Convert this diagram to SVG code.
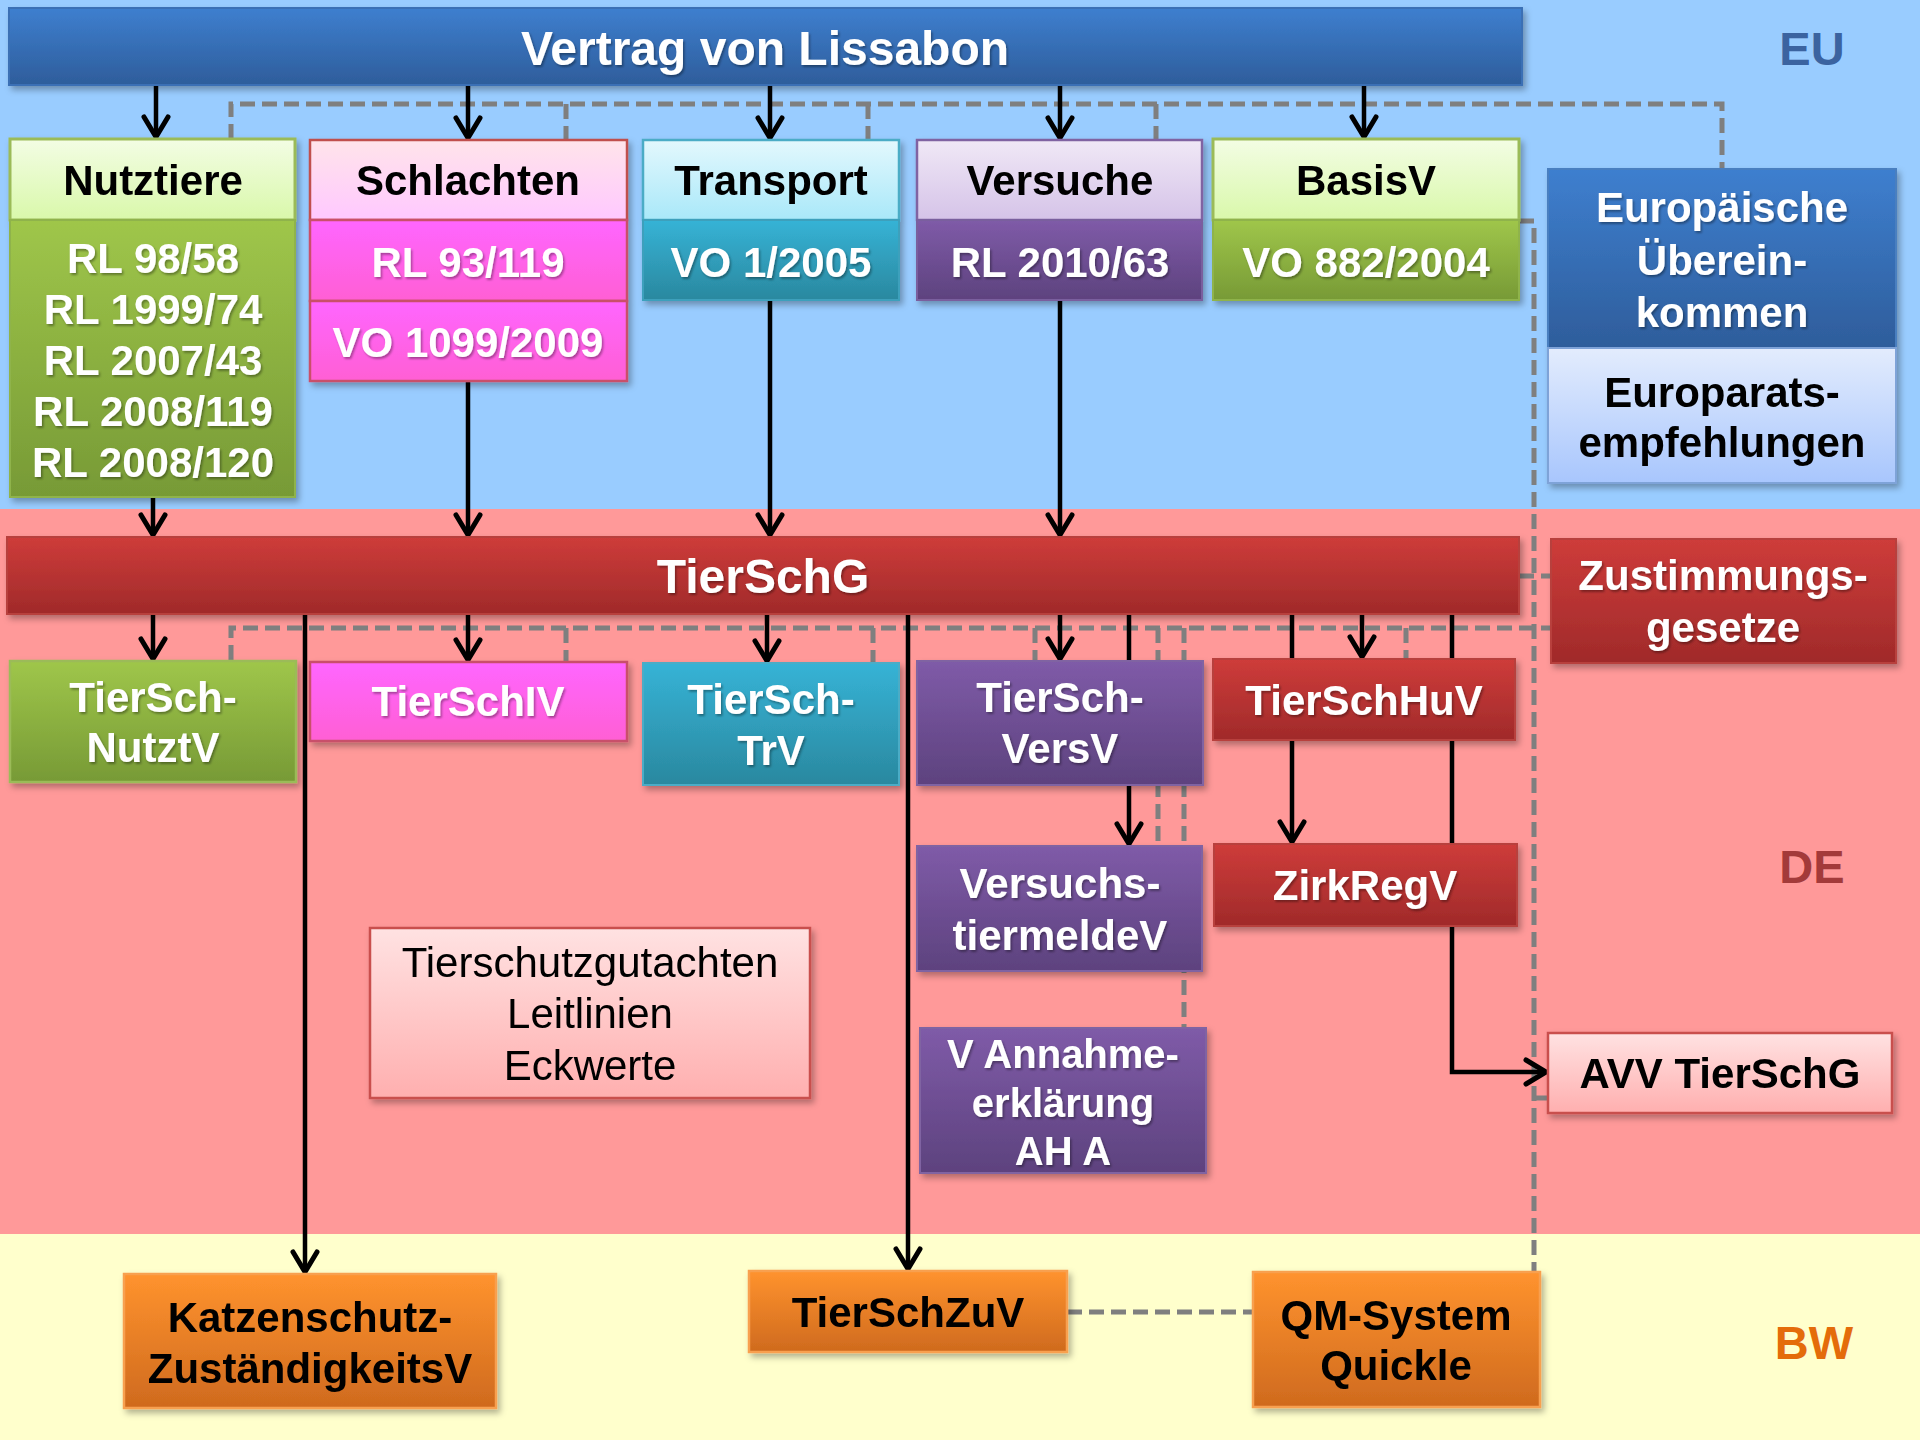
<svg xmlns="http://www.w3.org/2000/svg" width="1920" height="1440" viewBox="0 0 1920 1440">
<defs>
<linearGradient id="gBlue" x1="0" y1="0" x2="0" y2="1"><stop offset="0" stop-color="#3e7fcf"/><stop offset="1" stop-color="#2e5d9b"/></linearGradient>
<linearGradient id="gRed" x1="0" y1="0" x2="0" y2="1"><stop offset="0" stop-color="#ce3c3a"/><stop offset="1" stop-color="#a02a2a"/></linearGradient>
<linearGradient id="gGreenH" x1="0" y1="0" x2="0" y2="1"><stop offset="0" stop-color="#f3fde4"/><stop offset="1" stop-color="#d9f8aa"/></linearGradient>
<linearGradient id="gGreen" x1="0" y1="0" x2="0" y2="1"><stop offset="0" stop-color="#9fc64a"/><stop offset="1" stop-color="#779a36"/></linearGradient>
<linearGradient id="gPinkH" x1="0" y1="0" x2="0" y2="1"><stop offset="0" stop-color="#ffe4ea"/><stop offset="1" stop-color="#ffc8ff"/></linearGradient>
<linearGradient id="gMag" x1="0" y1="0" x2="0" y2="1"><stop offset="0" stop-color="#ff66ff"/><stop offset="1" stop-color="#ff5fd4"/></linearGradient>
<linearGradient id="gCyanH" x1="0" y1="0" x2="0" y2="1"><stop offset="0" stop-color="#e3f8fd"/><stop offset="1" stop-color="#a9e8f9"/></linearGradient>
<linearGradient id="gTeal" x1="0" y1="0" x2="0" y2="1"><stop offset="0" stop-color="#36b3d6"/><stop offset="1" stop-color="#2a889f"/></linearGradient>
<linearGradient id="gLavH" x1="0" y1="0" x2="0" y2="1"><stop offset="0" stop-color="#f0e8f6"/><stop offset="1" stop-color="#d5c3e8"/></linearGradient>
<linearGradient id="gPurple" x1="0" y1="0" x2="0" y2="1"><stop offset="0" stop-color="#7f5ba8"/><stop offset="1" stop-color="#5d427e"/></linearGradient>
<linearGradient id="gLightBlue" x1="0" y1="0" x2="0" y2="1"><stop offset="0" stop-color="#e3ecfd"/><stop offset="1" stop-color="#a8c6fd"/></linearGradient>
<linearGradient id="gRose" x1="0" y1="0" x2="0" y2="1"><stop offset="0" stop-color="#ffe2e2"/><stop offset="1" stop-color="#ffafaf"/></linearGradient>
<linearGradient id="gOrange" x1="0" y1="0" x2="0" y2="1"><stop offset="0" stop-color="#ff932e"/><stop offset="1" stop-color="#cf6a1e"/></linearGradient>
<filter id="shadow" x="-10%" y="-10%" width="130%" height="140%">
<feDropShadow dx="3" dy="4" stdDeviation="3" flood-color="#000" flood-opacity="0.3"/>
</filter>
<filter id="tshadow" x="-5%" y="-20%" width="110%" height="150%">
<feDropShadow dx="1.5" dy="2" stdDeviation="1" flood-color="#000" flood-opacity="0.35"/>
</filter>
<marker id="arrow" markerUnits="userSpaceOnUse" viewBox="-24 -14 28 28" refX="0" refY="0" markerWidth="28" markerHeight="28" orient="auto" overflow="visible">
<path d="M-20,-12 L0,0 L-20,12" fill="none" stroke="#000" stroke-width="5" stroke-linecap="round" stroke-linejoin="miter"/>
</marker>
</defs>
<style>
text{font-family:"Liberation Sans",Arial,Helvetica,sans-serif;font-weight:bold;text-anchor:middle;}
.w{fill:#fff;font-size:42px;}
.k{fill:#000;font-size:42px;}
.big{fill:#fff;font-size:48px;}
.reg{font-weight:normal;fill:#000;font-size:42px;}
.lbl{font-size:47px;}
.line{fill:none;stroke:#000;stroke-width:4.5;}
.arr{marker-end:url(#arrow);}
.dash{fill:none;stroke:#7f7f7f;stroke-width:5;stroke-dasharray:15 7;}
.box{filter:url(#shadow);}
.wt{filter:url(#tshadow);}
</style>

<!-- backgrounds -->
<rect x="0" y="0" width="1920" height="509" fill="#99ccff"/>
<rect x="0" y="509" width="1920" height="725" fill="#ff9999"/>
<rect x="0" y="1234" width="1920" height="206" fill="#ffffcc"/>

<g id="connectors">
<!-- dashed EU -->
<path class="dash" d="M231,139 V104 H1722 V169"/>
<path class="dash" d="M566,104 V141"/>
<path class="dash" d="M868,104 V139"/>
<path class="dash" d="M1156,104 V139"/>
<path class="dash" d="M1519,221 H1534 V1272"/>
<path class="dash" d="M1519,576 H1551"/>
<path class="dash" d="M1534,1098 H1548"/>
<!-- dashed DE -->
<path class="dash" d="M231,660 V628 H1551"/>
<path class="dash" d="M566,628 V662"/>
<path class="dash" d="M873,628 V663"/>
<path class="dash" d="M1035,628 V661"/>
<path class="dash" d="M1158,628 V846"/>
<path class="dash" d="M1184,628 V1028"/>
<path class="dash" d="M1406,628 V659"/>
<!-- dashed BW -->
<path class="dash" d="M1067,1312 H1253"/>
<!-- black arrows -->
<path class="line arr" d="M156,85 V137"/>
<path class="line arr" d="M468,85 V138"/>
<path class="line arr" d="M770,85 V138"/>
<path class="line arr" d="M1060,85 V138"/>
<path class="line arr" d="M1364,85 V137"/>
<path class="line arr" d="M153,497 V535"/>
<path class="line arr" d="M468,381 V535"/>
<path class="line arr" d="M770,300 V535"/>
<path class="line arr" d="M1060,300 V535"/>
<path class="line arr" d="M153,614 V659"/>
<path class="line arr" d="M468,614 V660"/>
<path class="line arr" d="M767,614 V661"/>
<path class="line arr" d="M305,614 V1272"/>
<path class="line arr" d="M908,614 V1269"/>
<path class="line arr" d="M1060,614 V659"/>
<path class="line arr" d="M1129,614 V844"/>
<path class="line arr" d="M1292,614 V842"/>
<path class="line arr" d="M1362,614 V657"/>
<path class="line arr" d="M1452,614 V1072 H1546"/>
</g>

<!-- EU level -->
<g id="vertrag" class="box">
<rect x="9" y="8" width="1513" height="77" fill="url(#gBlue)" stroke="#3a6fb5" stroke-width="2"/>
<text class="big wt" x="765" y="65">Vertrag von Lissabon</text>
</g>
<g id="nutztiere" class="box">
<rect x="10" y="139" width="285" height="81" fill="url(#gGreenH)" stroke="#9bbb59" stroke-width="3"/>
<rect x="10" y="220" width="285" height="277" fill="url(#gGreen)" stroke="#8fb34c" stroke-width="2"/>
<text class="k" x="153" y="195">Nutztiere</text>
<g class="wt">
<text class="w" x="153" y="273">RL 98/58</text>
<text class="w" x="153" y="324">RL 1999/74</text>
<text class="w" x="153" y="375">RL 2007/43</text>
<text class="w" x="153" y="426">RL 2008/119</text>
<text class="w" x="153" y="477">RL 2008/120</text>
</g>
</g>
<g id="schlachten" class="box">
<rect x="310" y="140" width="317" height="80" fill="url(#gPinkH)" stroke="#c0504d" stroke-width="2.5"/>
<rect x="310" y="220" width="317" height="81" fill="url(#gMag)" stroke="#c9506a" stroke-width="2.5"/>
<rect x="310" y="301" width="317" height="80" fill="url(#gMag)" stroke="#c9506a" stroke-width="2.5"/>
<text class="k" x="468" y="195">Schlachten</text>
<g class="wt">
<text class="w" x="468" y="277">RL 93/119</text>
<text class="w" x="468" y="357">VO 1099/2009</text>
</g>
</g>
<g id="transport" class="box">
<rect x="643" y="140" width="256" height="80" fill="url(#gCyanH)" stroke="#4bacc6" stroke-width="2.5"/>
<rect x="643" y="220" width="256" height="80" fill="url(#gTeal)" stroke="#3ea0bc" stroke-width="2"/>
<text class="k" x="771" y="195">Transport</text>
<text class="w wt" x="771" y="277">VO 1/2005</text>
</g>
<g id="versuche" class="box">
<rect x="917" y="140" width="285" height="80" fill="url(#gLavH)" stroke="#8064a2" stroke-width="2.5"/>
<rect x="917" y="220" width="285" height="80" fill="url(#gPurple)" stroke="#7a5e9e" stroke-width="2"/>
<text class="k" x="1060" y="195">Versuche</text>
<text class="w wt" x="1060" y="277">RL 2010/63</text>
</g>
<g id="basisv" class="box">
<rect x="1213" y="139" width="306" height="81" fill="url(#gGreenH)" stroke="#9bbb59" stroke-width="3"/>
<rect x="1213" y="220" width="306" height="80" fill="url(#gGreen)" stroke="#8fb34c" stroke-width="2"/>
<text class="k" x="1366" y="195">BasisV</text>
<text class="w wt" x="1366" y="277">VO 882/2004</text>
</g>
<g id="europ" class="box">
<rect x="1548" y="169" width="348" height="179" fill="url(#gBlue)" stroke="#4a7fc0" stroke-width="2"/>
<rect x="1548" y="348" width="348" height="135" fill="url(#gLightBlue)" stroke="#7ea3d8" stroke-width="2"/>
<g class="wt">
<text class="w" x="1722" y="222">Europäische</text>
<text class="w" x="1722" y="275">Überein-</text>
<text class="w" x="1722" y="327">kommen</text>
</g>
<text class="k" x="1722" y="407">Europarats-</text>
<text class="k" x="1722" y="457">empfehlungen</text>
</g>

<!-- DE level -->
<g id="tierschg" class="box">
<rect x="7" y="537" width="1512" height="77" fill="url(#gRed)" stroke="#b8403d" stroke-width="2"/>
<text class="big wt" x="763" y="593">TierSchG</text>
</g>
<g id="zustimmung" class="box">
<rect x="1551" y="539" width="345" height="124" fill="url(#gRed)" stroke="#b8403d" stroke-width="2"/>
<g class="wt">
<text class="w" x="1723" y="590">Zustimmungs-</text>
<text class="w" x="1723" y="642">gesetze</text>
</g>
</g>
<g id="nutztv" class="box">
<rect x="10" y="661" width="286" height="121" fill="url(#gGreen)" stroke="#9bbb59" stroke-width="2.5"/>
<g class="wt">
<text class="w" x="153" y="712">TierSch-</text>
<text class="w" x="153" y="762">NutztV</text>
</g>
</g>
<g id="tierschiv" class="box">
<rect x="310" y="662" width="317" height="79" fill="url(#gMag)" stroke="#c9506a" stroke-width="2.5"/>
<text class="w wt" x="468" y="716">TierSchIV</text>
</g>
<g id="trv" class="box">
<rect x="643" y="663" width="256" height="122" fill="url(#gTeal)" stroke="#4bacc6" stroke-width="2"/>
<g class="wt">
<text class="w" x="771" y="714">TierSch-</text>
<text class="w" x="771" y="765">TrV</text>
</g>
</g>
<g id="versv" class="box">
<rect x="917" y="661" width="286" height="124" fill="url(#gPurple)" stroke="#8064a2" stroke-width="2"/>
<g class="wt">
<text class="w" x="1060" y="712">TierSch-</text>
<text class="w" x="1060" y="763">VersV</text>
</g>
</g>
<g id="huv" class="box">
<rect x="1213" y="659" width="302" height="81" fill="url(#gRed)" stroke="#b8403d" stroke-width="2"/>
<text class="w wt" x="1364" y="715">TierSchHuV</text>
</g>
<g id="versmelde" class="box">
<rect x="917" y="846" width="285" height="125" fill="url(#gPurple)" stroke="#8064a2" stroke-width="2"/>
<g class="wt">
<text class="w" x="1060" y="898">Versuchs-</text>
<text class="w" x="1060" y="950">tiermeldeV</text>
</g>
</g>
<g id="zirkreg" class="box">
<rect x="1214" y="844" width="303" height="82" fill="url(#gRed)" stroke="#b8403d" stroke-width="2"/>
<text class="w wt" x="1365" y="900">ZirkRegV</text>
</g>
<g id="gutachten" class="box">
<rect x="370" y="928" width="440" height="170" fill="url(#gRose)" stroke="#c9504d" stroke-width="2.5"/>
<text class="reg" x="590" y="977">Tierschutzgutachten</text>
<text class="reg" x="590" y="1028">Leitlinien</text>
<text class="reg" x="590" y="1080">Eckwerte</text>
</g>
<g id="vannahme" class="box">
<rect x="920" y="1028" width="286" height="145" fill="url(#gPurple)" stroke="#8064a2" stroke-width="2"/>
<g class="wt">
<text class="w" x="1063" y="1068" style="font-size:40px">V Annahme-</text>
<text class="w" x="1063" y="1117" style="font-size:40px">erklärung</text>
<text class="w" x="1063" y="1165" style="font-size:40px">AH A</text>
</g>
</g>
<g id="avv" class="box">
<rect x="1548" y="1033" width="344" height="80" fill="url(#gRose)" stroke="#c9504d" stroke-width="2.5"/>
<text class="k" x="1720" y="1088">AVV TierSchG</text>
</g>

<!-- BW level -->
<g id="katzen" class="box">
<rect x="124" y="1274" width="372" height="134" fill="url(#gOrange)" stroke="#f8a050" stroke-width="2.5"/>
<text class="k" x="310" y="1332">Katzenschutz-</text>
<text class="k" x="310" y="1383">ZuständigkeitsV</text>
</g>
<g id="zuv" class="box">
<rect x="749" y="1271" width="318" height="81" fill="url(#gOrange)" stroke="#f8a050" stroke-width="2.5"/>
<text class="k" x="908" y="1327">TierSchZuV</text>
</g>
<g id="qm" class="box">
<rect x="1253" y="1272" width="287" height="135" fill="url(#gOrange)" stroke="#f8a050" stroke-width="2.5"/>
<text class="k" x="1396" y="1330">QM-System</text>
<text class="k" x="1396" y="1380">Quickle</text>
</g>

<!-- level labels -->
<text class="lbl" x="1812" y="65" fill="#3b63a0">EU</text>
<text class="lbl" x="1812" y="883" fill="#a33a3a">DE</text>
<text class="lbl" x="1814" y="1359" fill="#e46c0a">BW</text>
</svg>
